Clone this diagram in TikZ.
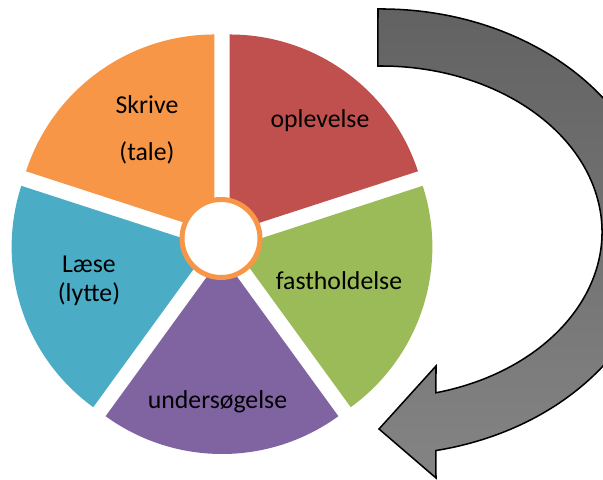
\documentclass[tikz,border=0pt]{standalone}
\usepackage{fontspec}
\setmainfont{Carlito}
\usepackage{tikz}

\definecolor{piered}{RGB}{192,80,77}
\definecolor{pieorange}{RGB}{247,150,70}
\definecolor{pieblue}{RGB}{75,172,198}
\definecolor{piepurple}{RGB}{128,100,162}
\definecolor{piegreen}{RGB}{155,187,89}
\definecolor{arrowtop}{RGB}{98,98,98}
\definecolor{arrowbot}{RGB}{132,132,132}

\begin{document}
\begin{tikzpicture}[x=0.03cm,y=0.03cm,
		label/.style={font=\fontsize{22}{25}\selectfont,align=center,inner sep=0}]
			\useasboundingbox (0,0) rectangle (603,480);
			\clip (0,0) rectangle (603,480);
			\foreach \b/\col in {54/piered,126/pieorange,198/pieblue,270/piepurple,342/piegreen}{
				\fill[\col] ({222+13*cos(\b)},{237+13*sin(\b)}) -- ++({\b-36}:198)
					arc[start angle={\b-36},end angle={\b+36},radius=198] -- cycle;
			}
			\node[circle,draw=pieorange,fill=white,line width=0.15cm,minimum size=2.34cm,inner sep=0] (hub) at (221,241.5) {};
			\node[label] (oplevelse) at (320,359) {oplevelse};
			\node[label] (skrive) at (147,350) {Skrive\\[15pt](tale)};
			\node[label] (laese) at (89,199) {Læse\\(lytte)};
			\node[label] (fastholdelse) at (339,199) {fastholdelse};
			\node[label] (undersoegelse) at (217.5,78) {undersøgelse};
			\draw[line width=1.3pt,top color=arrowtop,bottom color=arrowbot]
				(378,471) arc[start angle=90.6,end angle=-78.6,x radius=278,y radius=223]
				-- (436,2) -- (379,51) -- (436,114)
				-- ({381+221*cos(-75.6)},{248+166*sin(-75.6)})
				arc[start angle=-75.6,end angle=90.8,x radius=221,y radius=166] -- cycle;
		\end{tikzpicture}
\end{document}
